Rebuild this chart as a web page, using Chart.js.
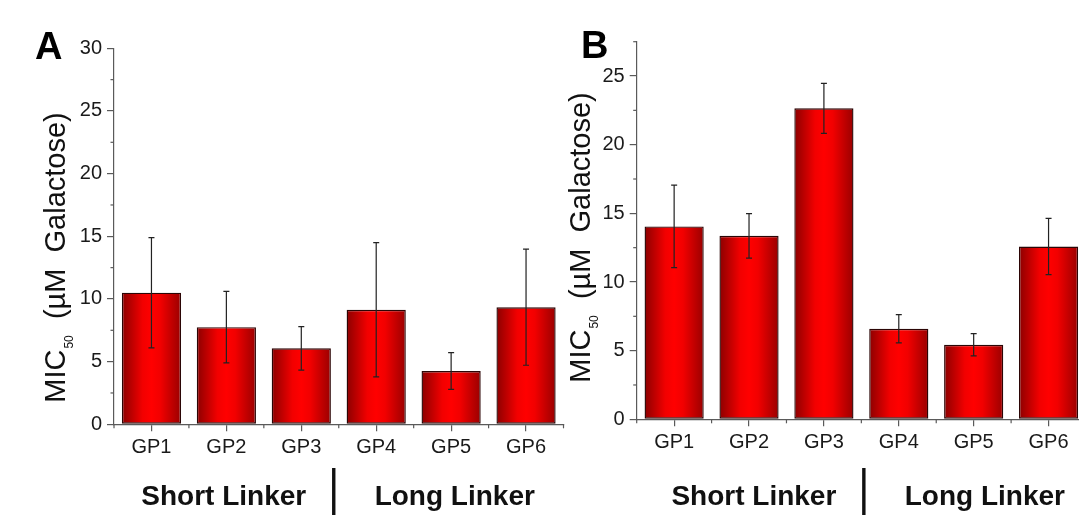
<!DOCTYPE html>
<html>
<head>
<meta charset="utf-8">
<script src="https://cdn.jsdelivr.net/npm/chart.js@4.4.1/dist/chart.umd.min.js"></script>
<style>
  body { margin: 0; background: #fff; overflow: hidden; width: 1079px; height: 515px; position: relative; }
  .panel { position: absolute; top: 0; height: 515px; }
</style>
</head>
<body>
<div class="panel" style="left:0;width:570px"><canvas id="chartA"></canvas></div>
<div class="panel" style="left:540px;width:560px"><canvas id="chartB"></canvas></div>

<script>
// data
const categories = ["GP1", "GP2", "GP3", "GP4", "GP5", "GP6"];
const valuesA = [10.5, 7.75, 6.06, 9.14, 4.25, 9.34];
const errorsA = [4.4, 2.85, 1.73, 5.35, 1.47, 4.63];
const valuesB = [14.05, 13.36, 22.65, 6.59, 5.43, 12.58];
const errorsB = [3.0, 1.62, 1.82, 1.03, 0.81, 2.05];
const yTicksA = [0, 5, 10, 15, 20, 25, 30];
const yTicksB = [0, 5, 10, 15, 20, 25];
const groupLabels = ["Short Linker", "Long Linker"];

const FONT = '"Liberation Sans", Arial, sans-serif';
const axisColor = "#5a5a5a";
const BAR_PCT = 0.79;

// horizontal dark-bright-dark gradient for each bar
function barFill(ctx) {
  const chart = ctx.chart;
  const xs = chart.scales.x;
  if (!xs || ctx.dataIndex === undefined) return "#e00000";
  const cx = xs.getPixelForValue(ctx.dataIndex);
  const half = (xs.width / categories.length) * BAR_PCT / 2;
  if (!isFinite(cx) || !isFinite(half) || half <= 0) return "#e00000";
  const g = chart.ctx.createLinearGradient(cx - half, 0, cx + half, 0);
  g.addColorStop(0, "#8c0000");
  g.addColorStop(0.35, "#f20000");
  g.addColorStop(0.5, "#ff0000");
  g.addColorStop(0.65, "#f20000");
  g.addColorStop(1, "#9a0000");
  return g;
}

// error bars + minor ticks + texts around the plot
const extrasPlugin = {
  id: "extras",
  afterDatasetsDraw(chart, args, opts) {
    const c = chart.ctx;
    const xs = chart.scales.x, ys = chart.scales.y;
    c.save();
    c.strokeStyle = "#222";
    c.lineWidth = 1.2;
    opts.values.forEach((v, i) => {
      const x = xs.getPixelForValue(i);
      const yt = ys.getPixelForValue(v + opts.errors[i]);
      const yb = ys.getPixelForValue(v - opts.errors[i]);
      c.beginPath();
      c.moveTo(x, yt); c.lineTo(x, yb);
      c.moveTo(x - 3, yt); c.lineTo(x + 3, yt);
      c.moveTo(x - 3, yb); c.lineTo(x + 3, yb);
      c.stroke();
    });
    c.restore();
  },
  afterDraw(chart, args, opts) {
    const c = chart.ctx;
    const xs = chart.scales.x, ys = chart.scales.y;
    const area = chart.chartArea;
    c.save();
    c.strokeStyle = axisColor;
    c.lineWidth = 1.2;
    // minor y ticks
    ys.ticks.forEach(t => {
      if (opts.yTicks.includes(t.value)) return;
      const y = ys.getPixelForValue(t.value);
      c.beginPath(); c.moveTo(area.left - 3.5, y); c.lineTo(area.left, y); c.stroke();
    });
    // minor x ticks at category boundaries
    const step = xs.width / categories.length;
    for (let i = 0; i <= categories.length; i++) {
      const x = xs.left + i * step;
      c.beginPath(); c.moveTo(x, area.bottom); c.lineTo(x, area.bottom + 4); c.stroke();
    }
    c.restore();

    // panel letter
    c.save();
    c.fillStyle = "#000";
    c.font = "bold 38px " + FONT;
    c.textBaseline = "alphabetic";
    c.fillText(opts.letter, opts.letterX, opts.letterY);
    c.restore();

    // y title with subscript
    c.save();
    c.translate(opts.titleX, opts.titleY);
    c.rotate(-Math.PI / 2);
    c.fillStyle = "#111";
    const big = "29px " + FONT, small = "12px " + FONT;
    const p1 = "MIC", p2 = "50", p3 = "  (\u00b5M  Galactose)";
    c.font = big;
    const w1 = c.measureText(p1).width, w3 = c.measureText(p3).width;
    c.font = small;
    const w2 = c.measureText(p2).width;
    let x = -(w1 + w2 + w3) / 2;
    c.font = big; c.fillText(p1, x, 0); x += w1;
    c.font = small; c.fillText(p2, x + 1, 8); x += w2 + 1;
    c.font = big; c.fillText(p3, x, 0);
    c.restore();

    // group labels and separator
    const sep = (xs.getPixelForValue(2) + xs.getPixelForValue(3)) / 2 + opts.sepShift;
    c.save();
    c.fillStyle = "#111";
    c.font = "bold 28px " + FONT;
    c.textAlign = "center";
    c.fillText(groupLabels[0], sep - 110, 505);
    c.fillText(groupLabels[1], sep + 121, 505);
    c.fillRect(sep - 1.7, 468, 3.4, 47);
    c.restore();
  }
};

function makeChart(id, values, errors, yMax, yTicks, layout, deco) {
  return new Chart(document.getElementById(id), {
    type: "bar",
    data: {
      labels: categories,
      datasets: [{
        data: values,
        backgroundColor: barFill,
        borderColor: "#2b0505",
        borderWidth: 1.4,
        borderSkipped: false,
        barPercentage: BAR_PCT,
        categoryPercentage: 1
      }]
    },
    options: {
      responsive: true,
      maintainAspectRatio: false,
      animation: false,
      layout: { padding: { left: 0, top: layout.top, right: layout.right, bottom: 0 } },
      plugins: {
        legend: { display: false },
        tooltip: { enabled: false },
        extras: Object.assign({ values, errors, yTicks }, deco)
      },
      scales: {
        x: {
          offset: true,
          grid: { offset: false, drawOnChartArea: false, tickLength: 7, color: axisColor, lineWidth: 1.2 },
          border: { color: axisColor, width: 1.2 },
          ticks: { color: "#1a1a1a", font: { family: FONT, size: 20 }, padding: 4 },
          afterFit(s) { s.height = layout.xHeight; }
        },
        y: {
          min: 0,
          max: yMax,
          grid: {
            drawOnChartArea: false,
            tickLength: 7,
            lineWidth: 1.2,
            color: ctx => (ctx.tick && yTicks.includes(ctx.tick.value)) ? axisColor : "rgba(0,0,0,0)"
          },
          border: { color: axisColor, width: 1.2 },
          ticks: {
            stepSize: 2.5,
            color: "#1a1a1a",
            padding: 5,
            font: { family: FONT, size: 20 },
            callback: v => yTicks.includes(v) ? String(v) : ""
          },
          afterFit(s) { s.width = layout.yWidth; }
        }
      }
    },
    plugins: [extrasPlugin]
  });
}

makeChart("chartA", valuesA, errorsA, 30, yTicksA,
  { top: 48.3, right: 6.5, xHeight: 90.7, yWidth: 114 },
  { letter: "A", letterX: 35, letterY: 59, titleX: 65, titleY: 258, sepShift: -5 });

makeChart("chartB", valuesB, errorsB, 27.5, yTicksB,
  { top: 41.7, right: 14, xHeight: 95.7, yWidth: 96.7 },
  { letter: "B", letterX: 41, letterY: 58, titleX: 50, titleY: 238, sepShift: 2.5 });
</script>
</body>
</html>
